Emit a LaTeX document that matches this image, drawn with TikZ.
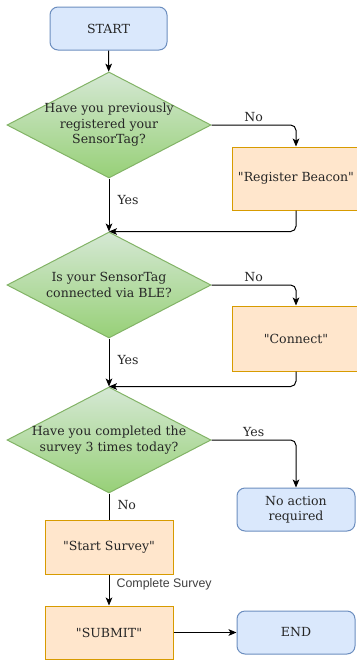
\documentclass[tikz,border=0pt]{standalone}
\usepackage{fontspec}
\setmainfont{DejaVu Serif}[Ligatures=TeXOff]
\setsansfont{Liberation Sans}
\usepackage{tikz}
\usetikzlibrary{shapes.geometric}
\usetikzlibrary{arrows.meta}

\definecolor{termfill}{RGB}{218,232,252}
\definecolor{termline}{RGB}{108,142,191}
\definecolor{procfill}{RGB}{255,230,204}
\definecolor{procline}{RGB}{215,155,0}
\definecolor{qtop}{RGB}{213,232,212}
\definecolor{qbottom}{RGB}{151,208,119}
\definecolor{qline}{RGB}{130,179,102}

\begin{document}
\begin{tikzpicture}[x=0.75pt,y=0.75pt,yscale=-1,xscale=1,
  every node/.style={font=\fontsize{9.4}{11.6}\selectfont, text=black!85},
  terminal/.style={draw=termline, fill=termfill, rounded corners=6, line width=0.75pt, minimum width=88.5pt, minimum height=32.25pt, align=center},
  decision/.style={diamond, draw=qline, top color=qtop, bottom color=qbottom, line width=0.75pt, minimum width=153pt, minimum height=79.5pt, inner sep=0pt},
  dtext/.style={align=center, inner sep=0pt},
  process/.style={draw=procline, fill=procfill, line width=0.75pt, minimum width=96pt, align=center},
  arrow/.style={draw, line width=0.75pt, rounded corners=4, -{Stealth[length=6pt,width=5pt,inset=1.5pt]}},
  link/.style={draw, line width=0.75pt},
  lbl/.style={inner sep=2pt},
  small/.style={font=\sffamily\fontsize{9.3}{11}\selectfont, text=black!75}]
\useasboundingbox (0,0) rectangle (357,661);

%Shape: Rounded Rect [start]
\node[terminal, minimum width=87.75pt] (start) at (108.5,28.5) {START};

%Shape: Diamond [q1]
\node[decision] (q1) at (109,125) {};
\node[dtext] (q1t) at (q1) {Have you previously\\registered your\\SensorTag?};
%Shape: Rect [register]
\node[process, minimum height=47.25pt] (register) at (296,178.5) {"Register Beacon"};

%Shape: Diamond [q2]
\node[decision] (q2) at (109,285) {};
\node[dtext] (q2t) at (q2) {Is your SensorTag\\connected via BLE?};
%Shape: Rect [connect]
\node[process, minimum height=48.75pt] (connect) at (296,338.5) {"Connect"};

%Shape: Diamond [q3]
\node[decision] (q3) at (109,440) {};
\node[dtext] (q3t) at (q3) {Have you completed the\\survey 3 times today?};
%Shape: Rounded Rect [noaction]
\node[terminal] (noaction) at (296,509.5) {No action\\required};

%Shape: Rect [survey]
\node[process, minimum height=40.5pt] (survey) at (109,547) {"Start Survey"};
%Shape: Rect [submit]
\node[process, minimum height=39.75pt] (submit) at (109,632.5) {"SUBMIT"};
%Shape: Rounded Rect [end]
\node[terminal] (end) at (296,632.5) {END};

%Connectors
\draw[arrow] (start) -- (q1);
\draw[arrow] (q1.east) -| node[lbl, pos=0.25, above] {No} (register.north);
\draw[arrow] (q1.south) -- node[lbl, pos=0.4, right=4pt] {Yes} (q2.north);
\draw[arrow] (register.south) |- (q2.north);

\draw[arrow] (q2.east) -| node[lbl, pos=0.25, above] {No} (connect.north);
\draw[arrow] (q2.south) -- node[lbl, pos=0.45, right=4pt] {Yes} (q3.north);
\draw[arrow] (connect.south) |- (q3.north);

\draw[arrow] (q3.east) -| node[lbl, pos=0.25, above] {Yes} (noaction.north);
\draw[link] (q3.south) -- node[lbl, pos=0.45, right=4pt] {No} (survey.north);
\draw[arrow] (survey.south) -- node[small, pos=0.3, right=2pt] {Complete Survey} (submit.north);
\draw[arrow] (submit.east) -- (end.west);

\end{tikzpicture}
\end{document}
